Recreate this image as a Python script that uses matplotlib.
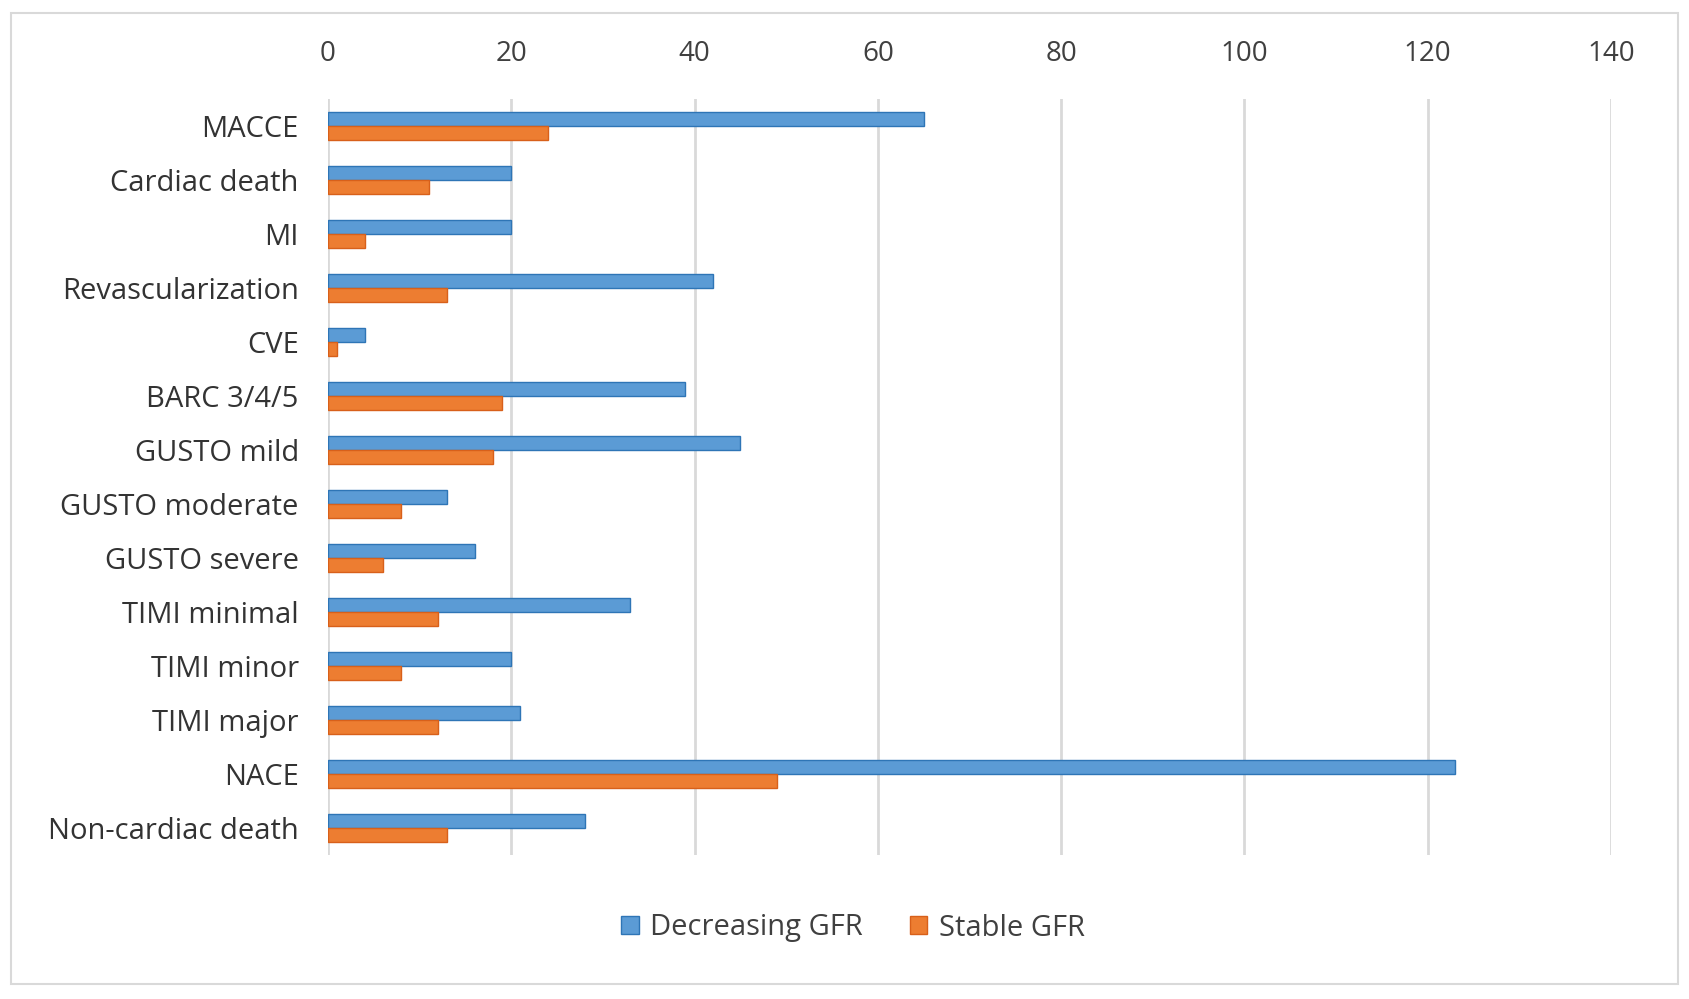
import matplotlib
matplotlib.use("Agg")
import matplotlib.pyplot as plt
import numpy as np
from matplotlib.patches import Rectangle

categories = ["MACCE", "Cardiac death", "MI", "Revascularization", "CVE",
              "BARC 3/4/5", "GUSTO mild", "GUSTO moderate", "GUSTO severe",
              "TIMI minimal", "TIMI minor", "TIMI major", "NACE", "Non-cardiac death"]
decreasing_gfr = [65, 20, 20, 42, 4, 39, 45, 13, 16, 33, 20, 21, 123, 28]
stable_gfr = [24, 11, 4, 13, 1, 19, 18, 8, 6, 12, 8, 12, 49, 13]
series_names = ["Decreasing GFR", "Stable GFR"]
xticks = [0, 20, 40, 60, 80, 100, 120, 140]

plt.rcParams['font.family'] = ['Open Sans', 'DejaVu Sans']

W, H = 1689, 999
fig = plt.figure(figsize=(W / 100, H / 100), dpi=100)
fig.patch.set_facecolor("white")

# outer chart border
fig.patches.append(Rectangle((11 / W, 1 - 984 / H), (1678 - 11) / W, (984 - 13) / H,
                             transform=fig.transFigure, fill=False,
                             edgecolor="#D9D9D9", linewidth=1.5))

ax = fig.add_axes([328 / W, 1 - 855 / H, (1611 - 328) / W, (855 - 99) / H])

y = np.arange(len(categories))
bh = 0.26
blue = "#5B9BD5"
orange = "#ED7D31"
ax.barh(y - bh / 2, decreasing_gfr, height=bh, color=blue, edgecolor="#2E75B6",
        linewidth=1.0, label=series_names[0], zorder=3)
ax.barh(y + bh / 2, stable_gfr, height=bh, color=orange, edgecolor="#D8601A",
        linewidth=1.0, label=series_names[1], zorder=3)

ax.set_ylim(len(categories) - 0.5, -0.5)
ax.set_xlim(0, 140)
ax.set_xticks(xticks)
ax.xaxis.tick_top()
ax.tick_params(axis='x', length=0, pad=22, labelsize=20, labelcolor="#404040")
ax.set_yticks(y)
ax.set_yticklabels(categories)
ax.tick_params(axis='y', length=0, pad=21, labelsize=21, labelcolor="#333333")
ax.grid(axis='x', color="#D9D9D9", linewidth=2, zorder=0)
for s in ax.spines.values():
    s.set_visible(False)

handles, labels = ax.get_legend_handles_labels()
fig.legend(handles, labels, loc="center", bbox_to_anchor=(853 / W, 1 - 928 / H),
           ncol=2, frameon=False, fontsize=21, handlelength=0.6, handleheight=0.6,
           handletextpad=0.4, columnspacing=1.6, labelcolor="#404040")

fig.savefig("out.png", dpi=100, facecolor="white")
